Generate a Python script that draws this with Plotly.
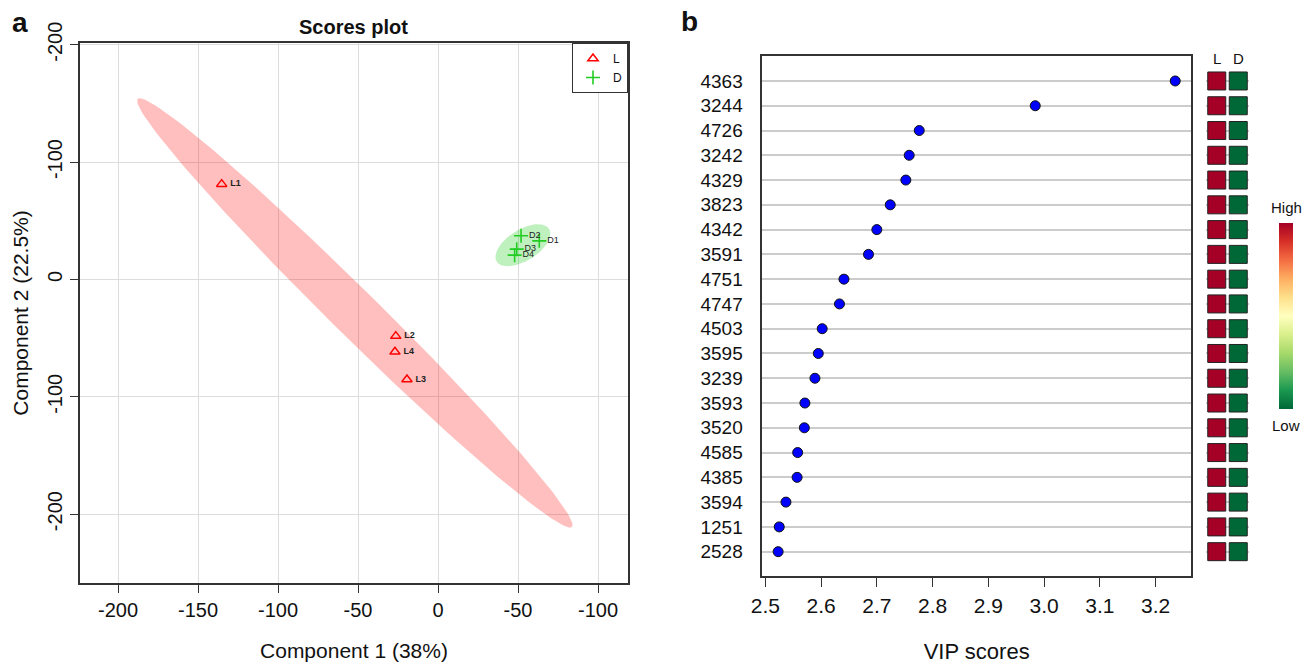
import numpy as np
import plotly.graph_objects as go

W, H = 1311, 665
FONT = "Liberation Sans, Arial, sans-serif"

# ---------------- data: scores plot ----------------
L_names = ["L1", "L2", "L3", "L4"]
L_x = [-135.2, -26.4, -19.4, -26.9]
L_y = [81.2, -48.3, -85.3, -61.7]
D_names = ["D1", "D2", "D3", "D4"]
D_x = [63.3, 51.9, 49.2, 47.9]
D_y = [32.9, 37.2, 25.8, 20.7]
x_tickvals = [-200, -150, -100, -50, 0, 50, 100]
x_ticktext = ["-200", "-150", "-100", "-50", "0", "-50", "-100"]
y_tickvals = [200, 100, 0, -100, -200]
y_ticktext = ["-200", "-100", "0", "-100", "-200"]

# ---------------- data: VIP plot ----------------
features = ["4363", "3244", "4726", "3242", "4329", "3823", "4342", "3591", "4751", "4747",
            "4503", "3595", "3239", "3593", "3520", "4585", "4385", "3594", "1251", "2528"]
vip = [3.235, 2.984, 2.776, 2.758, 2.752, 2.724, 2.700, 2.685, 2.641, 2.633,
       2.602, 2.595, 2.589, 2.571, 2.570, 2.558, 2.557, 2.537, 2.525, 2.523]
level_L = [1, 1, 1, 1, 1, 1, 1, 1, 1, 1, 1, 1, 1, 1, 1, 1, 1, 1, 1, 1]
level_D = [0, 0, 0, 0, 0, 0, 0, 0, 0, 0, 0, 0, 0, 0, 0, 0, 0, 0, 0, 0]
vip_ticks = [2.5, 2.6, 2.7, 2.8, 2.9, 3.0, 3.1, 3.2]

rdylgn = [[0.0, "#006837"], [0.1, "#1a9850"], [0.2, "#66bd63"], [0.3, "#a6d96a"],
          [0.4, "#d9ef8b"], [0.5, "#ffffbf"], [0.6, "#fee08b"], [0.7, "#fdae61"],
          [0.8, "#f46d43"], [0.9, "#d73027"], [1.0, "#a50026"]]


def px_x(p):
    return p / W


def px_y(p):
    return 1 - p / H


def conf_ellipse(x, y, level=0.95, n=200):
    pts = np.column_stack([x, y])
    mu = pts.mean(axis=0)
    cov = np.cov(pts.T)
    t = np.sqrt(-2 * np.log(1 - level))  # sqrt(qchisq(level, 2))
    vals, vecs = np.linalg.eigh(cov)
    th = np.linspace(0, 2 * np.pi, n)
    circ = np.vstack([np.cos(th), np.sin(th)])
    e = mu[:, None] + vecs @ (np.sqrt(np.maximum(vals, 0))[:, None] * t * circ)
    return e[0], e[1]


fig = go.Figure()

# ellipses
ex, ey = conf_ellipse(L_x, L_y)
fig.add_trace(go.Scatter(x=ex, y=ey, mode="lines", fill="toself", line=dict(width=0),
                         fillcolor="rgba(255,0,0,0.25)", hoverinfo="skip", showlegend=False,
                         xaxis="x", yaxis="y"))
ex, ey = conf_ellipse(D_x, D_y)
fig.add_trace(go.Scatter(x=ex, y=ey, mode="lines", fill="toself", line=dict(width=0),
                         fillcolor="rgba(0,200,0,0.25)", hoverinfo="skip", showlegend=False,
                         xaxis="x", yaxis="y"))

# points
fig.add_trace(go.Scatter(x=L_x, y=L_y, mode="markers", name="L",
                         marker=dict(symbol="triangle-up-open", size=9, color="#FF0000",
                                     line=dict(width=1.5)), xaxis="x", yaxis="y"))
fig.add_trace(go.Scatter(x=D_x, y=D_y, mode="markers", name="D",
                         marker=dict(symbol="cross-thin-open", size=10, color="#22CC22",
                                     line=dict(width=1.6, color="#22CC22")), xaxis="x", yaxis="y"))
fig.add_trace(go.Scatter(x=L_x, y=L_y, mode="markers+text", text=L_names, textposition="middle right",
                         marker=dict(size=12, color="rgba(0,0,0,0)"),
                         texttemplate="<b>%{text}</b>",
                         textfont=dict(size=9, color="#222222", family=FONT), showlegend=False,
                         hoverinfo="skip", xaxis="x", yaxis="y"))
fig.add_trace(go.Scatter(x=D_x, y=D_y, mode="markers+text", text=D_names, textposition="middle right",
                         marker=dict(size=11, color="rgba(0,0,0,0)"),
                         textfont=dict(size=9, color="#222222", family=FONT), showlegend=False,
                         hoverinfo="skip", xaxis="x", yaxis="y"))

# VIP dots
fig.add_trace(go.Scatter(x=vip, y=features, mode="markers", showlegend=False,
                         marker=dict(size=10, color="#0000FF", line=dict(width=1, color="#111111")),
                         xaxis="x2", yaxis="y2"))

# heat squares
fig.add_trace(go.Scatter(x=["L"] * len(features) + ["D"] * len(features), y=features + features,
                         mode="markers", showlegend=False,
                         marker=dict(symbol="square", size=18, color=level_L + level_D,
                                     colorscale=rdylgn, cmin=0, cmax=1,
                                     line=dict(width=1, color="#222222"),
                                     showscale=True,
                                     colorbar=dict(x=px_x(1279), xanchor="left", y=px_y(316), yanchor="middle",
                                                   thickness=14, lenmode="pixels", len=186, xpad=0, ypad=0,
                                                   outlinewidth=0, showticklabels=False, ticks="")),
                         xaxis="x3", yaxis="y2"))

axis_common = dict(showline=True, mirror=True, linecolor="#333333", linewidth=1.5,
                   ticks="outside", tickcolor="#333333", zeroline=False, automargin=False)


def label(text, x, y, size, xref="paper", bold=False):
    return dict(text=f"<b>{text}</b>" if bold else text, x=x, y=px_y(y), xref=xref, yref="paper",
                xanchor="center", yanchor="middle", showarrow=False,
                font=dict(size=size, family=FONT, color="#111111"))


fig.update_layout(
    width=W, height=H, margin=dict(l=0, r=0, t=0, b=0),
    paper_bgcolor="white", plot_bgcolor="white",
    font=dict(family=FONT, color="#111111"),
    xaxis=dict(domain=[px_x(80), px_x(628)], range=[-223.75, 118.75], anchor="y",
               tickvals=x_tickvals, ticktext=x_ticktext, ticklen=8,
               tickfont=dict(size=20, family=FONT, color="#111111"),
               showgrid=True, gridcolor="#DDDDDD", gridwidth=1.2,
               title=dict(text="Component 1 (38%)", font=dict(size=21, family=FONT), standoff=24),
               **axis_common),
    yaxis=dict(domain=[px_y(583), px_y(43)], range=[-258.7, 201.5], anchor="x",
               tickvals=y_tickvals, ticktext=y_ticktext, tickangle=-90, ticklen=8,
               tickfont=dict(size=20, family=FONT, color="#111111"),
               showgrid=True, gridcolor="#DDDDDD", gridwidth=1.2,
               title=dict(text="Component 2 (22.5%)", font=dict(size=21, family=FONT), standoff=10),
               **axis_common),
    xaxis2=dict(domain=[px_x(762.3), px_x(1191)], range=[2.4946, 3.2633], anchor="y2",
                tickvals=vip_ticks, ticktext=[f"{v:.1f}" for v in vip_ticks], ticklen=10,
                tickfont=dict(size=21, family=FONT, color="#111111"),
                showgrid=False,
                title=dict(text="VIP scores", font=dict(size=22, family=FONT), standoff=28),
                **axis_common),
    yaxis2=dict(domain=[px_y(575.7), px_y(55.7)], anchor="x2", type="category",
                categoryorder="array", categoryarray=features, range=[19.97, -1.02],
                showline=True, mirror=True, linecolor="#333333", linewidth=1.5, automargin=False,
                ticks="", ticklabelstandoff=14, zeroline=False,
                tickfont=dict(size=19, family=FONT, color="#111111"),
                showgrid=True, gridcolor="#CCCCCC", gridwidth=1.5),
    xaxis3=dict(domain=[px_x(1206), px_x(1249)], anchor="y2", type="category",
                categoryorder="array", categoryarray=["L", "D"], range=[-0.5, 1.5], automargin=False,
                showticklabels=False, showgrid=False, showline=False, zeroline=False, ticks=""),
    legend=dict(x=px_x(628), xanchor="right", y=px_y(43), yanchor="top",
                bordercolor="#333333", borderwidth=1, bgcolor="white",
                font=dict(size=12, family=FONT), itemwidth=30, tracegroupgap=0),
    annotations=[
        label("a", px_x(20), 23, 28, bold=True),
        label("b", px_x(689), 22, 28, bold=True),
        label("Scores plot", px_x(353), 27, 20, bold=True),
        label("L", "L", 58, 15, xref="x3"),
        label("D", "D", 58, 15, xref="x3"),
        label("High", px_x(1286), 207, 15),
        label("Low", px_x(1286), 425, 15),
    ],
)

fig.write_html("out.html")
